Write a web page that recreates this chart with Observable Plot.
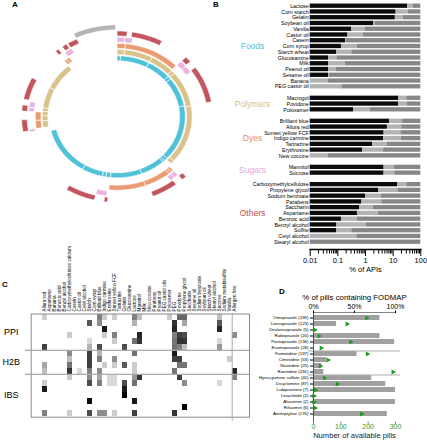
<!DOCTYPE html>
<html><head><meta charset="utf-8">
<script src="https://cdn.jsdelivr.net/npm/d3@7"></script>
<script src="https://cdn.jsdelivr.net/npm/@observablehq/plot@0.6"></script>
<style>
body{margin:0;background:#fff;font-family:"Liberation Sans",Arial,sans-serif;}
#fig{position:relative;width:427px;height:440px;overflow:hidden;background:#fff;}
.panel{position:absolute;}
.tag{position:absolute;font-weight:bold;font-size:8px;line-height:9px;color:#000;}
</style></head><body><div id="fig"></div>
<script>
// ================= DATA =================
// Panel A: ring segments [ring level, start angle (deg, clockwise from top), end angle, category]
const ringCategories = ["Foods","Polymers","Dyes","Sugars","Others","None"];
const ringColors = ["#4fc2d8","#d9c38b","#eb9b72","#e7b5df","#c3555f","#b4b4b4"];
const arcSegments = [
  [0,0,3,"Foods"],[0,3,28,"Foods"],[0,28,49,"Foods"],[0,49,52,"Foods"],[0,52,80,"Foods"],[0,80,133,"Foods"],
  [0,133,136,"Foods"],[0,136,138,"Foods"],[0,138,159,"Foods"],[0,159,186,"Foods"],[0,186,190,"Foods"],
  [0,190,193,"Foods"],[0,193,211,"Foods"],[0,211,257,"Foods"],
  [1,0,6,"Polymers"],[1,6,28,"Polymers"],[1,28,47,"Polymers"],[1,47,50,"Polymers"],[1,50,81,"Polymers"],
  [1,81,131,"Polymers"],[1,131,134,"Polymers"],
  [1,261,267,"Polymers"],[1,267,271.5,"Polymers"],[1,271.5,275,"Polymers"],[1,275,278,"Polymers"],
  [1,278,296,"Polymers"],[1,296,319,"Polymers"],
  [2,0,6,"Dyes"],[2,6,46,"Dyes"],[2,137,139,"Dyes"],[2,139,141,"Dyes"],[2,141,160,"Dyes"],[2,160,186,"Dyes"],
  [2,261,267.5,"Dyes"],[2,267.5,274,"Dyes"],[2,320,322,"Dyes"],[2,322,324,"Dyes"],
  [3,0,5,"Sugars"],[3,5,10,"Sugars"],[3,46,51,"Sugars"],[3,51,56,"Sugars"],[3,137,140,"Sugars"],[3,140,143,"Sugars"],
  [3,187,194,"Sugars"],[3,259,261,"Sugars"],[3,274,277,"Sugars"],[3,277,281,"Sugars"],[3,324,329,"Sugars"],
  [4,0,6,"Others"],[4,9,28,"Others"],[4,46,50,"Others"],[4,55,80,"Others"],[4,134,137,"Others"],[4,142,158,"Others"],
  [4,186,188,"Others"],[4,194,212,"Others"],[4,260,268,"Others"],[4,274,278,"Others"],[4,282,297,"Others"],
  [4,320,322,"Others"],[4,325,328,"Others"],[4,329,335,"Others"],
  [5,335,359,"None"]
];

// Panel B: % of APIs (log scale) - black segment end, light segment end
const bFoods = ["Lactose","Corn starch","Gelatin","Soybean oil","Vanilla","Castor oil","Casein","Corn syrup","Starch wheat","Glucosamine","Milk","Peanut oil","Sesame oil","Banana","PEG castor oil"];
const bFoodsBlack = [33,12.8,12,2.0,0.32,0.23,0.19,0.135,0.092,0.046,0.046,0.046,0.046,0,0];
const bFoodsLight = [54,36,23.6,2.2,0.97,0.85,0.2,0.51,0.32,0.092,0.19,0.088,0.05,0.046,0.14];
const bPolymers = ["Macrogol","Povidone","Poloxamer"];
const bPolymersBlack = [16,15.6,0.37];
const bPolymersLight = [31,33,1.5];
const bDyes = ["Brilliant blue","Allura red","Sunset yellow FCF","Indigo carmine","Tartrazine","Erythrosine","New coccine"];
const bDyesBlack = [7.4,6.2,4.7,4.5,1.8,0.78,0];
const bDyesLight = [22,20.5,19,20,6.2,4.5,0.046];
const bSugars = ["Mannitol","Sucrose"];
const bSugarsBlack = [4.7,4.7];
const bSugarsLight = [11,11.5];
const bOthers = ["Carboxymethylcellulose","Propylene glycol","Sodium benzoate","Parabens","Saccharin","Aspartame","Benzoic acid","Benzyl alcohol","Sulfite","Cetyl alcohol","Stearyl alcohol"];
const bOthersBlack = [14.8,2.95,1.0,0.74,0.61,0.51,0.135,0.092,0.092,0,0];
const bOthersLight = [31,14.8,3.7,3.9,1.95,2.95,0.51,1.05,0.32,0.49,0.01];
const bXDomain = [0.01, 100];
const bMajorTicks = [0.01,0.1,1,10,100];

// Panel C: heatmap
const cIngredients = ["Allura red","Aspartame","Banana","Benzoic acid","Benzyl alcohol","Carboxymethylcellulose calcium","Casein","Castor oil","Cetyl alcohol","Starch","Corn syrup","Brilliant blue","Indigo carmine","Erythrosine","Sunset yellow FCF","Tartrazine","Gelatin","Glucosamine","Lactose","Mannitol","Milk","New coccine","Parabens","Peanut oil","PEG castor oils","Poloxamer","PEG","Povidone","Propylene glycol","Saccharin","Sesame oil","Sodium benzoate","Soybean oil","Starch wheat","Stearyl alcohol","Sucrose","Sodium metabisulfite","Vanilla","Allergen free"];
const drugClasses = [["PPI",0,5],["H2B",6,9],["IBS",10,16]];
// [drug row, ingredient col, shade 0..1]
const heatCells = [
 [0,0,.2],[0,11,.5],[0,12,.2],[0,14,.2],[0,18,.5],[0,19,.25],[0,25,.2],[0,27,.6],[0,28,.6],[0,35,.25],
 [1,9,.65],[1,11,.45],[1,18,.3],[1,26,.8],[1,28,.35],[1,35,.65],
 [2,12,.9],[2,26,.85],[2,35,.85],
 [3,5,.2],[3,12,.2],[3,14,.5],[3,19,.85],[3,26,.5],[3,27,.75],[3,28,.7],[3,38,.45],
 [4,9,.15],[4,14,.2],[4,18,.55],[4,19,.8],[4,26,.55],[4,27,.8],[4,28,.8],[4,35,.15],
 [5,0,.75],[5,9,.3],[5,11,.7],[5,16,.7],[5,26,.55],[5,27,.5],[5,28,.25],[5,35,.4],
 [6,5,.45],[6,9,.75],[6,11,.3],[6,18,.55],[6,26,.9],
 [7,5,.25],[7,9,.75],[7,11,.5],[7,14,.45],[7,26,.75],[7,27,.75],[7,37,.2],
 [8,0,.35],[8,5,.55],[8,9,.75],[8,12,.2],[8,14,.2],[8,16,.65],[8,18,.2],[8,27,.55],[8,28,.55],
 [9,0,.25],[9,5,.8],[9,7,.15],[9,9,.5],[9,11,.45],[9,18,.2],[9,26,.55],[9,38,.85],
 [10,5,.2],[10,9,.45],[10,11,.35],[10,13,.15],[10,14,.15],[10,18,.4],[10,19,.8],[10,27,.75],[10,38,.5],
 [11,0,.2],[11,9,.7],[11,11,.5],[11,13,.15],[11,14,.15],[11,16,.7],[11,18,.55],[11,28,.45],[11,35,.15],
 [12,0,.9],[12,16,.9],
 [13,16,1],
 [14,9,.95],[14,18,.9],
 [15,28,1],
 [16,0,.5],[16,5,.2],[16,9,.7],[16,11,.45],[16,12,.45],[16,14,.2],[16,18,.75],[16,26,.8]
];

// Panel D
const drugLabels = ["Omeprazole (195)","Lansoprazole (123)","Dexlansoprazole (5)","Rabeprazole (20)","Pantoprazole (136)","Esomeprazole (28)","Famotidine (197)","Cimetidine (53)","Nizatidine (25)","Ranitidine (291)","Hyoscyamine sulfate (40)","Dicyclomine (87)","Lubiprostone (7)","Linaclotide (2)","Alosetron (2)","Rifaximin (6)","Amitriptyline (176)"];
const pillCounts = [195,123,5,20,136,28,197,53,25,291,40,87,7,2,2,6,176];
const fodmapPct = [81,28,0,81,99,0,53,16,10,12.5,71,88,100,0,100,0,90];
const pillTicks = [0,100,200,300];
const pctTicks = [0,50,100];

// ================= LAYOUT =================
const fontFamily = "'Liberation Sans', Arial, sans-serif";
const fig = document.getElementById("fig");
function place(node, left, top, w, h) {
  const d = document.createElement("div");
  d.className = "panel";
  Object.assign(d.style, {left: left+"px", top: top+"px", width: w+"px", height: h+"px"});
  d.append(node); fig.append(d);
}
function tag(t, left, top) {
  const d = document.createElement("div"); d.className = "tag"; d.textContent = t;
  d.style.left = left+"px"; d.style.top = top+"px"; fig.append(d);
}
const style = {fontFamily, background: "transparent", overflow: "visible"};

// ---------- Panel A ----------
const R0 = 56, RSTEP = 6.2, RW = 5;
function arcFeature([ring, a0, a1, cat]) {
  const r0 = R0 + RSTEP*ring, r1 = r0 + RW;
  const n = Math.max(2, Math.ceil((a1-a0)/0.5));
  const pts = [];
  for (let i=0;i<=n;i++) pts.push([a0+(a1-a0)*i/n, r0]);
  for (let i=n;i>=0;i--) pts.push([a0+(a1-a0)*i/n, r1]);
  pts.push(pts[0]);
  return {type:"Feature", properties:{cat}, geometry:{type:"Polygon", coordinates:[pts]}};
}
const aCx = 116.7, aCy = 116.3, aKx = 1.115;
const ringProjection = d3.geoTransform({
  point(a, r) { const t = a*Math.PI/180; this.stream.point(aCx + aKx*r*Math.sin(t), aCy - r*Math.cos(t)); }
});
const plotA = Plot.plot({
  width: 213, height: 240, margin: 0, style,
  projection: ringProjection,
  color: {domain: ringCategories, range: ringColors},
  marks: [Plot.geo(arcSegments.map(arcFeature), {fill: d => d.properties.cat, stroke: "white", strokeWidth: 0.6})]
});
place(plotA, 0, 0, 213, 240);

// ---------- Panel B ----------
const bGroups = [
  {name:"Foods", color:"#4ec3dc", items:bFoods, black:bFoodsBlack, light:bFoodsLight},
  {name:"Polymers", color:"#d8c083", items:bPolymers, black:bPolymersBlack, light:bPolymersLight},
  {name:"Dyes", color:"#ea9063", items:bDyes, black:bDyesBlack, light:bDyesLight},
  {name:"Sugars", color:"#e6a7dc", items:bSugars, black:bSugarsBlack, light:bSugarsLight},
  {name:"Others", color:"#c24a57", items:bOthers, black:bOthersBlack, light:bOthersLight}
];
const bRows = [], bDomainY = [];
bGroups.forEach((g, gi) => {
  if (gi) bDomainY.push("\u200b".repeat(gi));
  g.items.forEach((name, i) => { bRows.push({name, black: g.black[i], light: g.light[i]}); bDomainY.push(name); });
});
const [lo, hi] = bXDomain;
const bRangeY = [2.1, 245.3];
const bStep = (bRangeY[1]-bRangeY[0]) / (bDomainY.length + 0.25);
const bMinor = [];
for (let e = -2; e < 2; e++) for (let k = 2; k <= 9; k++) bMinor.push(k * Math.pow(10, e));
const plotB = Plot.plot({
  width: 214, height: 280, marginLeft: 96.7, marginRight: 6.7, marginTop: 0, marginBottom: 31, style,
  x: {type: "log", domain: bXDomain},
  y: {domain: bDomainY, range: bRangeY, padding: 0.25, axis: null},
  marks: [
    Plot.barX(bRows.filter(d => d.black > lo), {x1: () => lo, x2: "black", y: "name", fill: "#0b0b0b"}),
    Plot.barX(bRows.filter(d => d.light > Math.max(d.black, lo)), {x1: d => Math.max(d.black, lo), x2: "light", y: "name", fill: "#b3b3b3"}),
    Plot.barX(bRows, {x1: d => Math.max(d.light, d.black, lo), x2: () => hi, y: "name", fill: "#878787"}),
    Plot.axisY({tickSize: 0, tickPadding: 1.5, fontSize: 5.3, label: null, tickFormat: d => d.startsWith("\u200b") ? "" : d}),
    Plot.frame({anchor: "bottom", strokeWidth: 1.5}),
    Plot.axisX({ticks: bMajorTicks, tickFormat: d => String(d), tickSize: 7, tickPadding: 1.5, fontSize: 7.5, label: null}),
    Plot.axisX({ticks: bMinor, tickFormat: () => "", tickSize: 4.5, label: null}),
    Plot.text(["% of APIs"], {frameAnchor: "bottom", dy: 22.7, fontSize: 7.5}),
    ...bGroups.map(g => {
      const mid = (g.items.length - 1) / 2;
      const row = g.items[Math.floor(mid)];
      return Plot.text([g.name], {y: () => row, frameAnchor: "left", dx: -57.7, dy: (mid % 1) * bStep,
        fill: g.color, fontSize: 8.5, textAnchor: "middle"});
    })
  ]
});
place(plotB, 213, 0, 214, 280);

// ---------- Panel C ----------
const cTop = 230;
const cRangeY = [313.5 - cTop, 416.7 - cTop];
const cStep = (cRangeY[1] - cRangeY[0]) / drugLabels.length;
const cRangeX = [30.7, 249];
const cColW = (cRangeX[1] - cRangeX[0]) / cIngredients.length;
const plotC = Plot.plot({
  width: 250, height: 440 - cTop, marginLeft: cRangeX[0], marginRight: 250 - cRangeX[1],
  marginTop: cRangeY[0], marginBottom: 440 - cTop - cRangeY[1], style,
  x: {domain: cIngredients, range: cRangeX, padding: 0, axis: null},
  y: {domain: drugLabels, range: cRangeY, padding: 0, axis: null},
  color: {type: "linear", domain: [0, 1], range: ["#ffffff", "#000000"]},
  marks: [
    Plot.cell(heatCells, {x: d => cIngredients[d[1]], y: d => drugLabels[d[0]], fill: d => d[2]}),
    Plot.frame({stroke: "#8a8a8a"}),
    Plot.ruleX([cIngredients[cIngredients.length - 1]], {dx: -cColW/2, stroke: "#aaa", strokeWidth: 1, insetBottom: -4}),
    Plot.ruleY([drugLabels[6], drugLabels[10]], {dy: -cStep/2, stroke: "#aaa", strokeWidth: 1.2, insetLeft: -6, insetRight: 0}),
    Plot.axisX({anchor: "top", tickRotate: -90, tickSize: 0, tickPadding: 2.6, fontSize: 4.6, label: null}),
    ...drugClasses.map(([name, a, b]) => {
      const mid = (a + b) / 2;
      return Plot.text([name], {y: () => drugLabels[Math.floor(mid)], frameAnchor: "left", dx: -20,
        dy: (mid % 1) * cStep, fontSize: 9, textAnchor: "middle"});
    })
  ]
});
place(plotC, 0, cTop, 250, 440 - cTop);

// ---------- Panel D ----------
const dTop = 280;
const dRangeY = [313.55 - dTop, 417.5 - dTop];
const dStep = (dRangeY[1] - dRangeY[0]) / (drugLabels.length + 0.25);
const dRows = drugLabels.map((name, i) => ({name, count: pillCounts[i], pct: fodmapPct[i]}));
const pillMax = pillTicks[pillTicks.length - 1];
const green = "#2f9a2f";
const plotD = Plot.plot({
  width: 177, height: 160, marginLeft: 63, marginRight: 32, marginTop: 32, marginBottom: 18.3, style,
  x: {domain: [0, pillMax]},
  y: {domain: drugLabels, range: dRangeY, padding: 0.25, axis: null},
  marks: [
    Plot.barX(dRows.filter(d => d.pct > 0), {x: d => d.pct / 100 * pillMax, y: "name", fill: "#a0a0a0"}),
    Plot.ruleY([drugLabels[6], drugLabels[10]], {dy: -dStep/2, stroke: "#aaa", strokeWidth: 1, insetLeft: -5, insetRight: -5}),
    Plot.ruleX([0], {stroke: "#333", strokeWidth: 0.8}),
    Plot.frame({anchor: "top", stroke: "#666", strokeWidth: 0.8}),
    Plot.dot(dRows, {x: "count", y: "name", symbol: "triangle", rotate: 90, r: 1.9, fill: "#1e9a1e", stroke: null}),
    Plot.axisY({tickSize: 3, tickPadding: 2, fontSize: 4.4, label: null}),
    Plot.axisX({anchor: "top", ticks: pctTicks.map(p => p / 100 * pillMax), tickFormat: d => (d / pillMax * 100) + "%",
      tickSize: 2.5, tickPadding: 1, fontSize: 7, label: null}),
    Plot.axisX({anchor: "bottom", ticks: pillTicks, tickSize: 2, tickPadding: 0, fontSize: 7, color: green, label: null}),
    Plot.text(["% of pills containing FODMAP"], {frameAnchor: "top", dy: -18.5, fontSize: 7.8}),
    Plot.text(["Number of available pills"], {frameAnchor: "bottom", dy: 15.6, fontSize: 7.6, fill: "#222"})
  ]
});
place(plotD, 250, dTop, 177, 160);

tag("A", 12, 0);
tag("B", 213, 0);
tag("C", 2, 280);
tag("D", 279, 287);
</script></body></html>
